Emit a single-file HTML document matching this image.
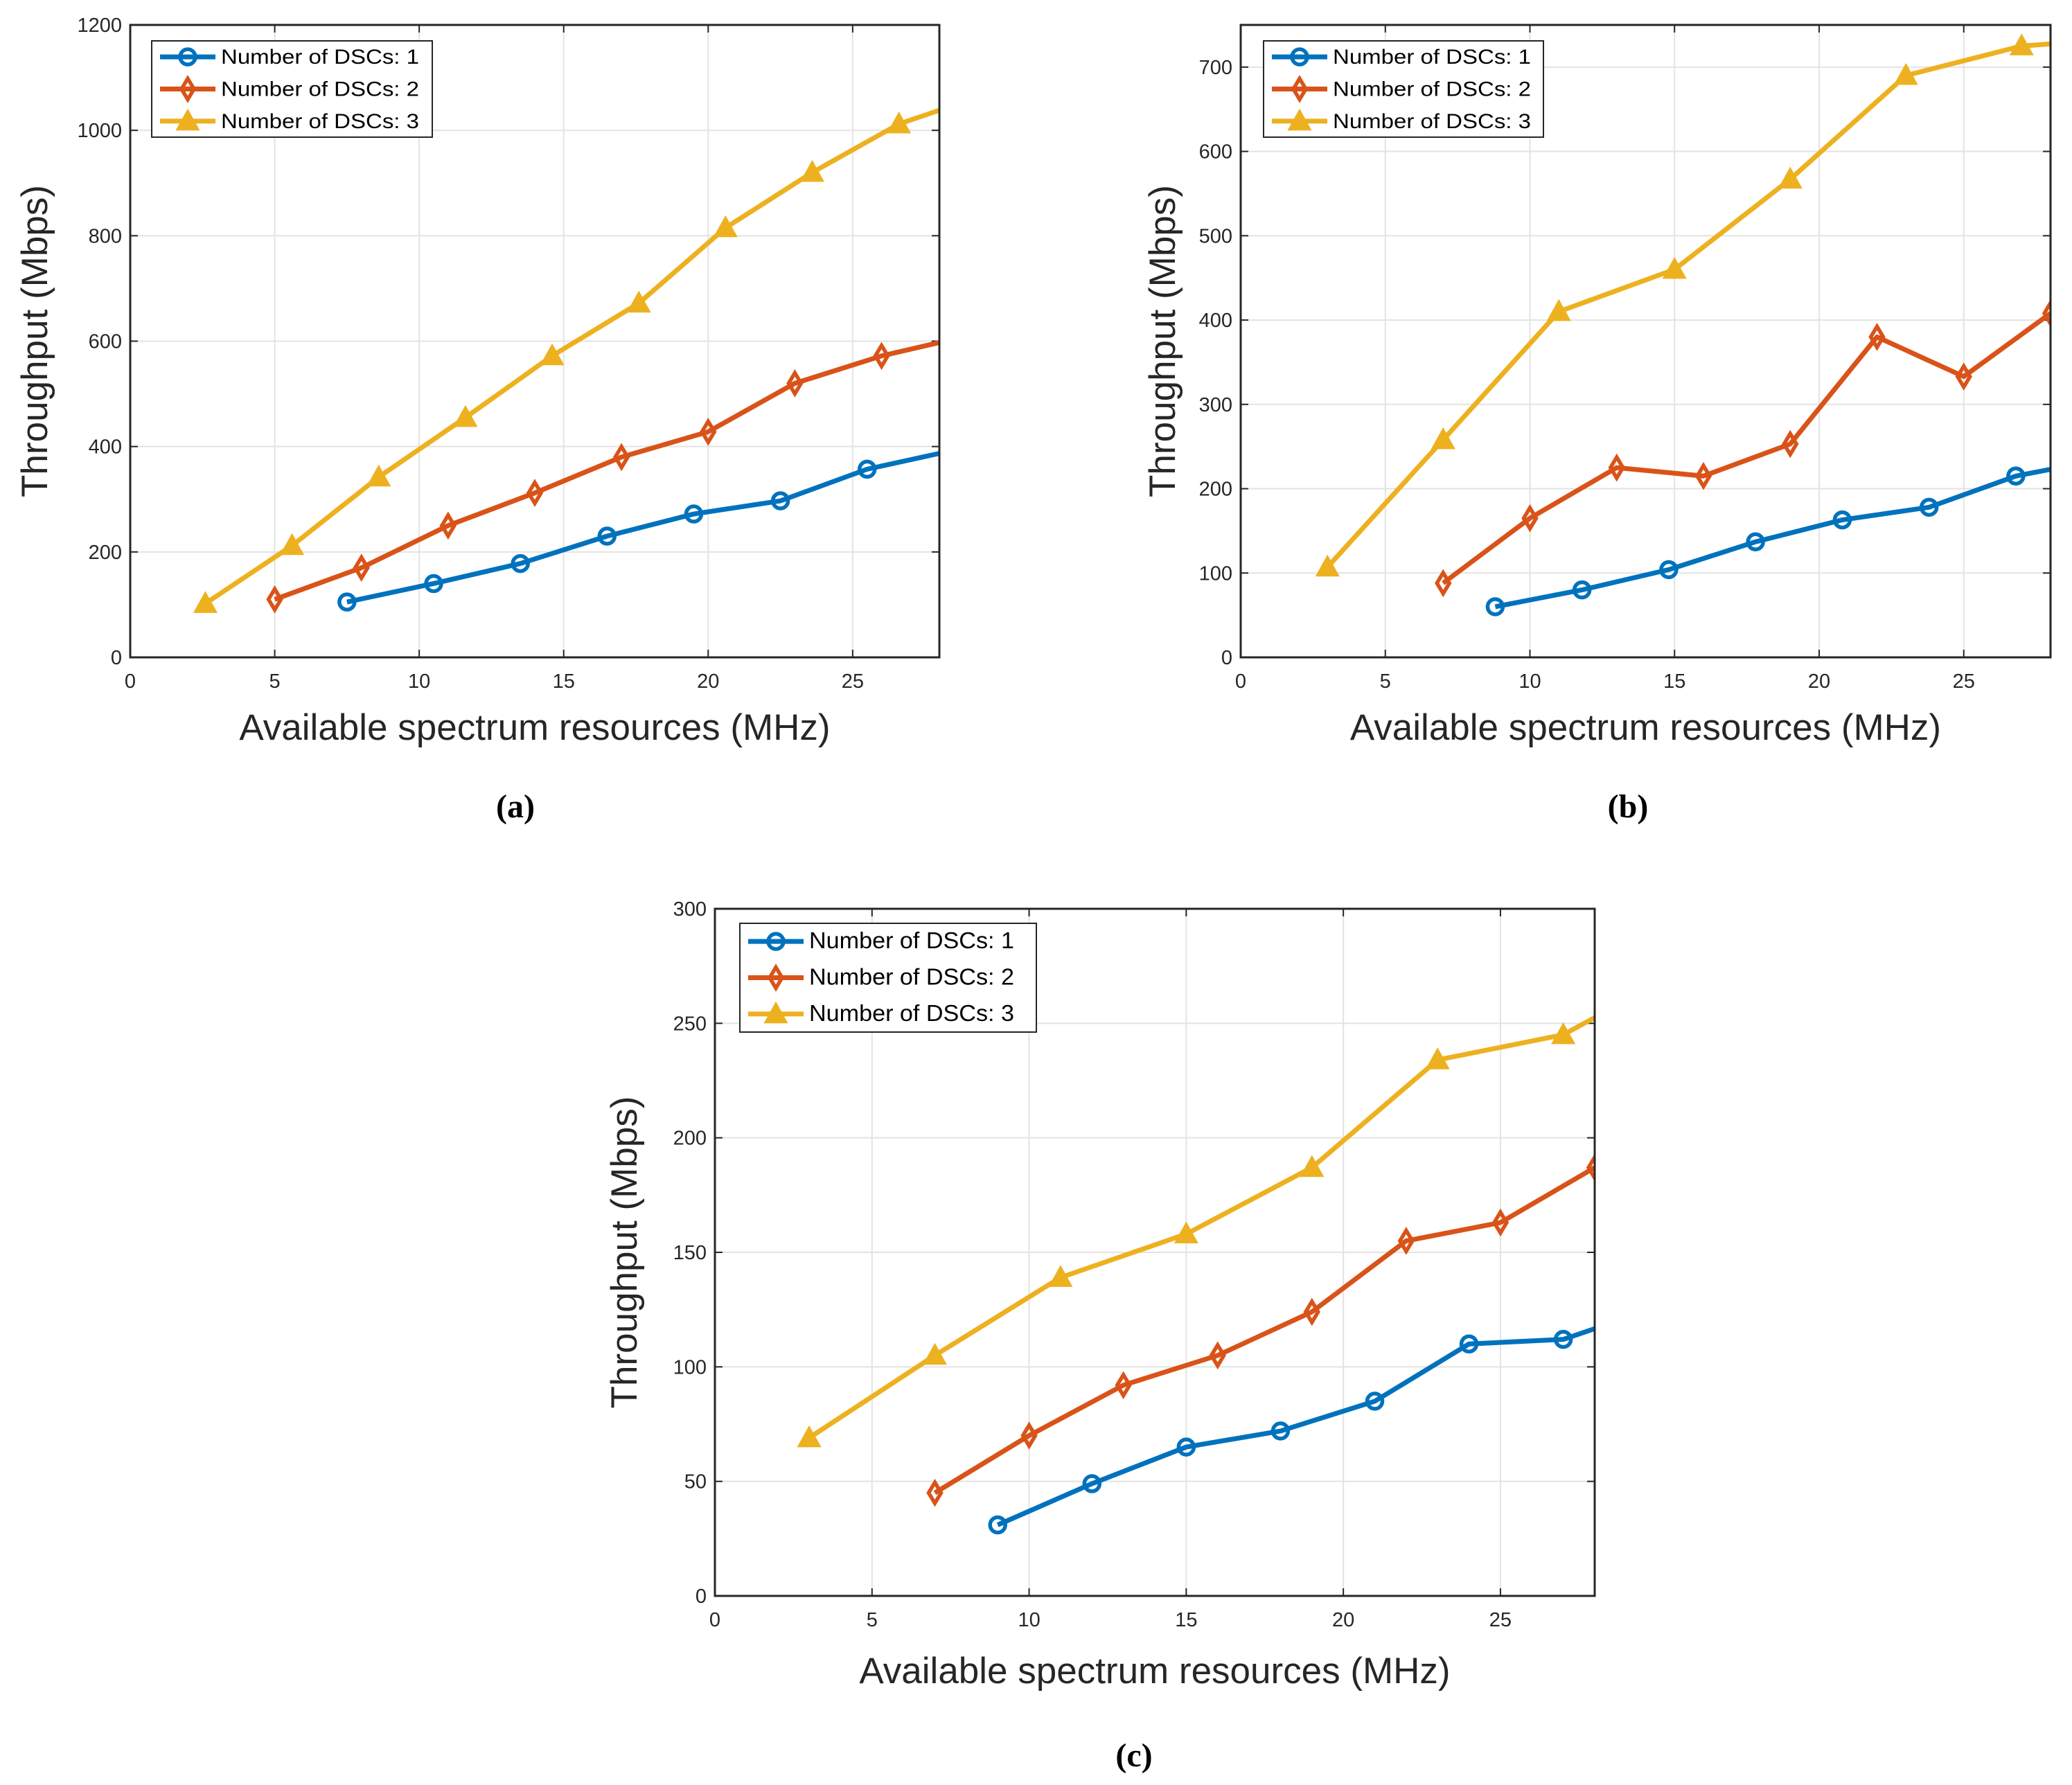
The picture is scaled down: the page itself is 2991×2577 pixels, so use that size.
<!DOCTYPE html>
<html><head><meta charset="utf-8"><style>
html,body{margin:0;padding:0;background:#fff;}
svg{display:block;font-family:"Liberation Sans",sans-serif;}
</style></head><body>
<svg id="fig" width="2991" height="2577" viewBox="0 0 2991 2577" xmlns="http://www.w3.org/2000/svg"></svg>
<script>
// Panel (a)
const aBlueX=[7.5,10.5,13.5,16.5,19.5,22.5,25.5,28.5];
const aBlueY=[105,140,178,230,272,297,357,393];
const aRedX=[5,8,11,14,17,20,23,26,29];
const aRedY=[110,170,250,312,380,428,520,572,610];
const aYelX=[2.6,5.6,8.6,11.6,14.6,17.6,20.6,23.6,26.6,29.6];
const aYelY=[102,212,342,455,572,672,815,920,1012,1068];
const aYTicks=[0,200,400,600,800,1000,1200];
// Panel (b)
const bBlueX=[8.8,11.8,14.8,17.8,20.8,23.8,26.8,29.8];
const bBlueY=[60,80,104,137,163,178,215,235];
const bRedX=[7,10,13,16,19,22,25,28];
const bRedY=[88,165,225,215,253,380,333,408];
const bYelX=[3,7,11,15,19,23,27,31];
const bYelY=[107,258,410,460,567,690,725,735];
const bYTicks=[0,100,200,300,400,500,600,700];
// Panel (c)
const cBlueX=[9,12,15,18,21,24,27,30];
const cBlueY=[31,49,65,72,85,110,112,126];
const cRedX=[7,10,13,16,19,22,25,28];
const cRedY=[45,70,92,105,124,155,163,187];
const cYelX=[3,7,11,15,19,23,27,31];
const cYelY=[69,105,139,158,187,234,245,275];
const cYTicks=[0,50,100,150,200,250,300];
const xTicks=[0,5,10,15,20,25];
const legendLabels=["Number of DSCs: 1","Number of DSCs: 2","Number of DSCs: 3"];

const NS="http://www.w3.org/2000/svg";
const svg=document.getElementById('fig');
function mk(tag,attrs,parent){const e=document.createElementNS(NS,tag);for(const k in attrs)e.setAttribute(k,attrs[k]);(parent||svg).appendChild(e);return e;}
const COLS=["#0072BD","#D95319","#EDB120"];

function marker(g,type,px,py,col){
  let m;
  if(type===0){m=mk('circle',{cx:px,cy:py,r:11,fill:'none',stroke:col,'stroke-width':5.5},g);}
  else if(type===1){m=mk('polygon',{points:`${px},${py-15} ${px+9},${py} ${px},${py+15} ${px-9},${py}`,fill:'none',stroke:col,'stroke-width':5.5},g);}
  else {m=mk('polygon',{points:`${px},${py-15} ${px+15},${py+12} ${px-15},${py+12}`,fill:col,stroke:col,'stroke-width':3},g);}
  return m;
}

function panel(id,L,R,T,B,ymax,yTicks,series,leg,ytitleX,xtitleY,lab,labX,labY){
  const g=mk('g',{});
  
  
  const sx=v=>L+(v/28)*(R-L);
  const sy=v=>B-(v/ymax)*(B-T);
  mk('rect',{x:L,y:T,width:R-L,height:B-T,fill:'#fff'},g);
  xTicks.forEach(t=>{
    const gl=mk('line',{x1:sx(t),x2:sx(t),y1:T,y2:B,stroke:'#e3e3e3','stroke-width':2},g);
    
    
    mk('line',{x1:sx(t),x2:sx(t),y1:B,y2:B-11,stroke:'#262626','stroke-width':2},g);
    mk('line',{x1:sx(t),x2:sx(t),y1:T,y2:T+11,stroke:'#262626','stroke-width':2},g);
    const tx=mk('text',{x:sx(t),y:B+44,'text-anchor':'middle','font-size':29,fill:'#262626'},g);
    tx.textContent=t;
    
    
  });
  yTicks.forEach(t=>{
    const gl=mk('line',{x1:L,x2:R,y1:sy(t),y2:sy(t),stroke:'#e3e3e3','stroke-width':2},g);
    
    
    mk('line',{x1:L,x2:L+11,y1:sy(t),y2:sy(t),stroke:'#262626','stroke-width':2},g);
    mk('line',{x1:R,x2:R-11,y1:sy(t),y2:sy(t),stroke:'#262626','stroke-width':2},g);
    const tx=mk('text',{x:L-12,y:sy(t)+10,'text-anchor':'end','font-size':29,fill:'#262626'},g);
    tx.textContent=t;
    
    
  });
  const cp=mk('clipPath',{id:'clip'+id},g);
  mk('rect',{x:L,y:T,width:R-L,height:B-T},cp);
  const sg=mk('g',{'clip-path':`url(#clip${id})`},g);
  series.forEach((s,i)=>{
    const pts=s[0].map((x,j)=>sx(x)+','+sy(s[1][j])).join(' ');
    const pl=mk('polyline',{points:pts,fill:'none',stroke:COLS[i],'stroke-width':7,'stroke-linejoin':'round'},sg);
    
    
    s[0].forEach((x,j)=>{
      const m=marker(sg,i,sx(x),sy(s[1][j]),COLS[i]);
      
      
    });
  });
  const fr=mk('rect',{x:L,y:T,width:R-L,height:B-T,fill:'none',stroke:'#262626','stroke-width':3},g);
  
  
  const lg=mk('g',{},g);
  
  
  mk('rect',{x:leg[0],y:leg[1],width:leg[2],height:leg[3],fill:'#fff',stroke:'#262626','stroke-width':2},lg);
  const rowH=leg[3]/3;
  legendLabels.forEach((t,i)=>{
    const cy=leg[1]+rowH*(i+0.5);
    const e=mk('g',{},lg);
    
    
    mk('line',{x1:leg[0]+12,x2:leg[0]+92,y1:cy,y2:cy,stroke:COLS[i],'stroke-width':7},e);
    marker(e,i,leg[0]+52,cy,COLS[i]);
    const tx=mk('text',{x:leg[0]+100,y:cy+10,'font-size':leg[4],fill:'#000',textLength:leg[5],lengthAdjust:'spacingAndGlyphs'},e);
    tx.textContent=t;
  });
  const xt=mk('text',{x:(L+R)/2,y:xtitleY,'text-anchor':'middle','font-size':53,fill:'#262626'},g);
  xt.textContent='Available spectrum resources (MHz)';
  
  
  const yt=mk('text',{x:0,y:0,'text-anchor':'middle','font-size':53,fill:'#262626',transform:`translate(${ytitleX},${(T+B)/2}) rotate(-90)`},g);
  yt.textContent='Throughput (Mbps)';
  
  
  const sl=mk('text',{x:labX,y:labY,'text-anchor':'middle','font-size':48,'font-weight':'bold',fill:'#000','font-family':'"Liberation Serif",serif'},g);
  sl.textContent=lab;
  
  
}

panel('a',188,1356,36,949,1200,aYTicks,[[aBlueX,aBlueY],[aRedX,aRedY],[aYelX,aYelY]],[219,59,405,139,30,286],68,1068,'(a)',744,1180);
panel('b',1791,2960,36,949,750,bYTicks,[[bBlueX,bBlueY],[bRedX,bRedY],[bYelX,bYelY]],[1824,59,404,139,30,286],1696,1068,'(b)',2350,1180);
panel('c',1032,2302,1312,2304,300,cYTicks,[[cBlueX,cBlueY],[cRedX,cRedY],[cYelX,cYelY]],[1068,1333,428,157,33,296],919,2430,'(c)',1637,2550);
</script>
</body></html>
